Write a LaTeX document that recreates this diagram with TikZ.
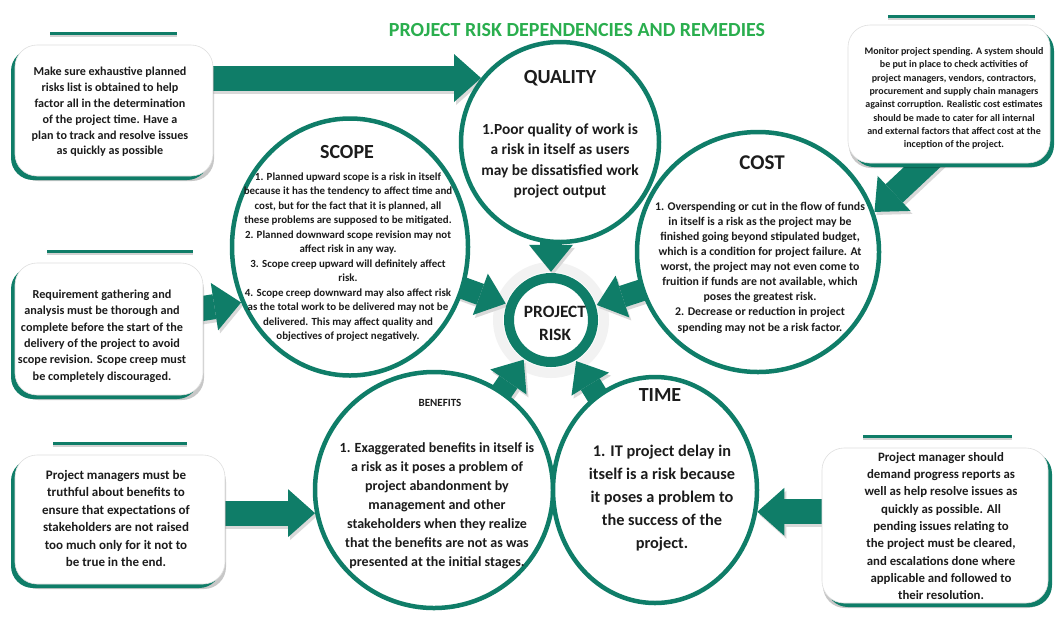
\documentclass[tikz,border=0pt]{standalone}
\usepackage{fontspec}
\setmainfont{Carlito}
\usetikzlibrary{arrows.meta,calc,shapes.geometric,shadows}
\definecolor{tealc}{HTML}{0F7D68}
\definecolor{titlec}{HTML}{2AAE4E}
\definecolor{txtc}{HTML}{1C1C1C}
\pgfdeclarelayer{bgl}
\pgfdeclarelayer{halo}
\pgfdeclarelayer{arrowl}
\pgfsetlayers{bgl,halo,arrowl,main}
\tikzset{
  riskcircle/.style={ellipse, draw=tealc, line width=4.5pt, fill=white, inner sep=0pt},
  tipbox/.style={rectangle, rounded corners=22pt, fill=white, draw=gray!25, line width=0.6pt, inner sep=0pt},
  leftbox/.style={tipbox, drop shadow={fill=black, opacity=0.22, shadow xshift=1pt, shadow yshift=-5pt}, general shadow={fill=tealc, shadow xshift=-4pt, shadow yshift=-4pt}},
  rightbox/.style={tipbox, drop shadow={fill=black, opacity=0.22, shadow xshift=1pt, shadow yshift=-5pt}, general shadow={fill=tealc, shadow xshift=4pt, shadow yshift=-4pt}},
  headtxt/.style={font=\bfseries\fontsize{20}{24}\selectfont, text=txtc, inner sep=0pt},
  bodytxt/.style={align=center, text=txtc, inner sep=0pt},
  blk/.style={line width=25pt, draw=tealc, -{Triangle[length=27pt,width=48pt,line width=0pt]}},
  blkshadow/.style={line width=25pt, draw=gray!30, -{Triangle[length=27pt,width=48pt,line width=0pt]}, transform canvas={xshift=2pt,yshift=-3pt}},
  blkpr/.style={line width=22pt, draw=tealc, -{Triangle[length=27pt,width=44pt,line width=0pt]}},
  blkprshadow/.style={line width=22pt, draw=gray!30, -{Triangle[length=27pt,width=44pt,line width=0pt]}, transform canvas={xshift=2pt,yshift=-3pt}},
  topline/.style={draw=tealc, line width=3pt},
  toplineshadow/.style={draw=gray!35, line width=2pt},
}
\begin{document}
\begin{tikzpicture}[x=1pt,y=-1pt]
\useasboundingbox (0,0) rectangle (1056,619);
\begin{pgfonlayer}{bgl}
\fill[white] (0,0) rectangle (1056,619);
\end{pgfonlayer}

% title
\node[font=\bfseries\fontsize{20}{24}\selectfont, text=titlec, inner sep=0pt] (title) at (577,30) {PROJECT RISK DEPENDENCIES AND REMEDIES};

% circles
\node[riskcircle, minimum width=198pt, minimum height=200pt] (quality) at (560,142) {};
\node[riskcircle, minimum width=236pt, minimum height=257pt] (scope) at (350,247) {};
\node[riskcircle, minimum width=242pt, minimum height=240pt] (cost) at (758,252) {};
\node[riskcircle, minimum width=238pt, minimum height=236pt] (benefits) at (434,490) {};
\node[riskcircle, minimum width=204pt, minimum height=226pt] (time) at (655,490) {};

% project risk
\node[circle, minimum size=96pt, inner sep=0pt] (prt) at (551,320) {};
\node[circle, draw=tealc, line width=10pt, fill=white, minimum size=84pt, inner sep=0pt] (pr) at (551,320) {};
\begin{pgfonlayer}{halo}
\draw[gray!10, line width=10pt] (pr.center) circle[radius=53];
\end{pgfonlayer}

% boxes
\node[leftbox, minimum width=198pt, minimum height=131pt] (b1) at (114,110.5) {};
\node[leftbox, minimum width=188pt, minimum height=132pt] (b2) at (109,329) {};
\node[leftbox, minimum width=210pt, minimum height=129pt] (b3) at (120,519.5) {};
\node[rightbox, minimum width=202pt, minimum height=138pt] (b4) at (949,94) {};
\node[rightbox, minimum width=226pt, minimum height=155pt] (b5) at (935,525.5) {};

% lines above boxes
\draw[toplineshadow] (50,35.5) -- (177,35.5);
\draw[topline] (50,33) -- (177,33);
\draw[toplineshadow] (47,253.5) -- (193,253.5);
\draw[topline] (47,251) -- (193,251);
\draw[toplineshadow] (53,445.5) -- (187,445.5);
\draw[topline] (53,443) -- (187,443);
\draw[toplineshadow] (888,18.5) -- (1035,18.5);
\draw[topline] (888,16) -- (1035,16);
\draw[toplineshadow] (863,438.5) -- (1012,438.5);
\draw[topline] (863,436) -- (1012,436);

% box texts
\node[bodytxt, font=\bfseries\fontsize{12.1}{15.8}\selectfont] (b1t) at (110,112) {Make sure exhaustive planned\\risks list is obtained to help\\factor all in the determination\\of the project time. Have a\\plan to track and resolve issues\\as quickly as possible};
\node[bodytxt, font=\bfseries\fontsize{12.2}{16.4}\selectfont] (b2t) at (102,336) {Requirement gathering and\\analysis must be thorough and\\complete before the start of the\\delivery of the project to avoid\\scope revision. Scope creep must\\be completely discouraged.};
\node[bodytxt, font=\bfseries\fontsize{13}{17.4}\selectfont] (b3t) at (116,518.5) {Project managers must be\\truthful about benefits to\\ensure that expectations of\\stakeholders are not raised\\too much only for it not to\\be true in the end.};
\node[bodytxt, font=\bfseries\fontsize{10}{13.3}\selectfont] (b4t) at (954,98.5) {Monitor project spending. A system should\\be put in place to check activities of\\project managers, vendors, contractors,\\procurement and supply chain managers\\against corruption. Realistic cost estimates\\should be made to cater for all internal\\and external factors that affect cost at the\\inception of the project.};
\node[bodytxt, font=\bfseries\fontsize{12.8}{17.3}\selectfont] (b5t) at (941,526) {Project manager should\\demand progress reports as\\well as help resolve issues as\\quickly as possible. All\\pending issues relating to\\the project must be cleared,\\and escalations done where\\applicable and followed to\\their resolution.};

% circle texts
\node[headtxt] (qualityh) at (560,78) {QUALITY};
\node[bodytxt, font=\bfseries\fontsize{15.4}{20.5}\selectfont] (qualityt) at (560,161) {1.Poor quality of work is\\a risk in itself as users\\may be dissatisfied work\\project output};
\node[headtxt] (scopeh) at (347,152) {SCOPE};
\node[bodytxt, font=\bfseries\fontsize{10.9}{14.5}\selectfont] (scopet) at (348,257) {1. Planned upward scope is a risk in itself\\because it has the tendency to affect time and\\cost, but for the fact that it is planned, all\\these problems are supposed to be mitigated.\\2. Planned downward scope revision may not\\affect risk in any way.\\3. Scope creep upward will definitely affect\\risk.\\4. Scope creep downward may also affect risk\\as the total work to be delivered may not be\\delivered. This may affect quality and\\objectives of project negatively.};
\node[headtxt, font=\bfseries\fontsize{21}{24}\selectfont] (costh) at (762,163) {COST};
\node[bodytxt, font=\bfseries\fontsize{11.8}{15.1}\selectfont] (costt) at (760,267.5) {1. Overspending or cut in the flow of funds\\in itself is a risk as the project may be\\finished going beyond stipulated budget,\\which is a condition for project failure. At\\worst, the project may not even come to\\fruition if funds are not available, which\\poses the greatest risk.\\2. Decrease or reduction in project\\spending may not be a risk factor.};
\node[font=\bfseries\fontsize{11}{13}\selectfont, text=txtc, inner sep=0pt] (benefitsh) at (440,403) {BENEFITS};
\node[bodytxt, font=\bfseries\fontsize{14}{19}\selectfont] (benefitst) at (437,506) {1. Exaggerated benefits in itself is\\a risk as it poses a problem of\\project abandonment by\\management and other\\stakeholders when they realize\\that the benefits are not as was\\presented at the initial stages.};
\node[headtxt] (timeh) at (660,395) {TIME};
\node[bodytxt, font=\bfseries\fontsize{16.3}{23}\selectfont] (timet) at (662,498.5) {1. IT project delay in\\itself is a risk because\\it poses a problem to\\the success of the\\project.};
\node[bodytxt, font=\bfseries\fontsize{17.3}{23}\selectfont] (prtxt) at (555,323) {PROJECT\\RISK};

% arrows
\begin{pgfonlayer}{arrowl}
\draw[blkshadow] (b1.center |- quality.141) -- (quality.141);
\draw[blk] (b1.center |- quality.141) -- (quality.141);
\draw[blkshadow] ($(b2.center)+(0,-6)$) -- (scope.207);
\draw[blk] ($(b2.center)+(0,-6)$) -- (scope.207);
\draw[blkshadow] (b3.center |- benefits.191) -- (benefits.191);
\draw[blk] (b3.center |- benefits.191) -- (benefits.191);
\draw[blkshadow] ($(b4.center)+(35,15)$) -- (cost.19);
\draw[blk] ($(b4.center)+(35,15)$) -- (cost.19);
\draw[blkshadow] (b5.center |- time.-12) -- (time.-12);
\draw[blk] (b5.center |- time.-12) -- (time.-12);

\draw[blkprshadow] (quality.center -| prt.center) -- (prt.north);
\draw[blkpr] (quality.center -| prt.center) -- (prt.north);
\draw[blkprshadow] (scope.center) -- (prt);
\draw[blkpr] (scope.center) -- (prt);
\draw[blkprshadow] (cost.center) -- (prt);
\draw[blkpr] (cost.center) -- (prt);
\draw[blkprshadow] (benefits.center) -- (prt);
\draw[blkpr] (benefits.center) -- (prt);
\draw[blkprshadow] (time.center) -- (prt);
\draw[blkpr] (time.center) -- (prt);
\end{pgfonlayer}
\end{tikzpicture}
\end{document}
